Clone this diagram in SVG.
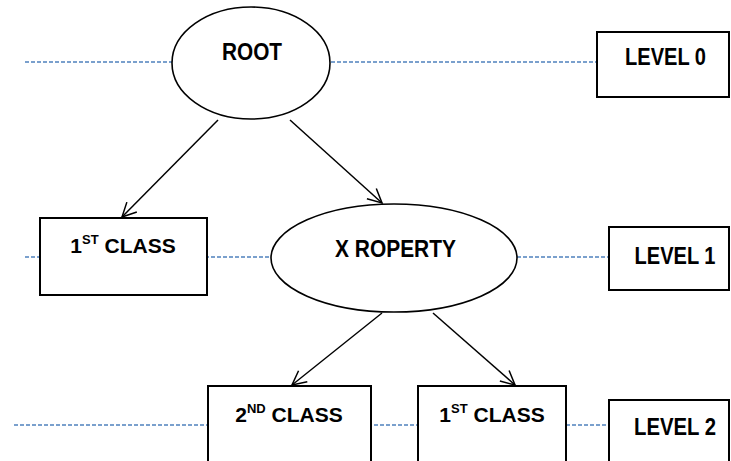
<svg xmlns="http://www.w3.org/2000/svg" width="731" height="461" viewBox="0 0 731 461">
<style>
.node{fill:#fff;stroke:#000;stroke-width:2}
.ell{fill:#fff;stroke:#000;stroke-width:1.6}
.lbl{font-family:"Liberation Sans",Arial,sans-serif;font-weight:bold;font-size:23px;fill:#000;text-anchor:middle}
.cls{font-size:21px}
.sup{font-size:13px}
.dash{stroke:#4f81bd;stroke-width:1.6;stroke-dasharray:4 2;fill:none}
.arr{stroke:#000;stroke-width:1.5;fill:none;marker-end:url(#ah)}
</style>
<defs>
<marker id="ah" markerWidth="20" markerHeight="20" refX="15" refY="8" orient="auto" markerUnits="userSpaceOnUse" viewBox="0 0 20 16">
<path d="M1,1 L15,8 L1,15" fill="none" stroke="#000" stroke-width="1.5"/>
</marker>
</defs>
<g id="levels">
<line class="dash" x1="25" y1="62" x2="597" y2="62"/>
<line class="dash" x1="25" y1="257" x2="609" y2="257"/>
<line class="dash" x1="14" y1="425" x2="609" y2="425"/>
</g>
<g id="connectors">
<line class="arr" x1="218" y1="120" x2="122" y2="217"/>
<line class="arr" x1="290" y1="120" x2="382" y2="203"/>
<line class="arr" x1="382" y1="313" x2="292" y2="385"/>
<line class="arr" x1="433" y1="313" x2="515" y2="385"/>
</g>
<g id="root">
<ellipse class="ell" cx="251" cy="63" rx="79" ry="56"/>
<text class="lbl" x="252" y="60" textLength="60" lengthAdjust="spacingAndGlyphs">ROOT</text>
</g>
<g id="level0">
<rect class="node" x="597" y="32" width="132" height="65"/>
<text class="lbl" x="665.5" y="65" textLength="81" lengthAdjust="spacingAndGlyphs">LEVEL 0</text>
</g>
<g id="class1a">
<rect class="node" x="40" y="218" width="167" height="77"/>
<text class="lbl cls" x="123" y="253">1<tspan class="sup" dy="-9">ST</tspan><tspan dy="9"> CLASS</tspan></text>
</g>
<g id="xproperty">
<ellipse class="ell" cx="394" cy="258" rx="123" ry="54"/>
<text class="lbl" x="395.5" y="257" textLength="121" lengthAdjust="spacingAndGlyphs">X ROPERTY</text>
</g>
<g id="level1">
<rect class="node" x="609" y="227" width="120" height="63"/>
<text class="lbl" x="675" y="264" textLength="81" lengthAdjust="spacingAndGlyphs">LEVEL 1</text>
</g>
<g id="class2">
<rect class="node" x="208" y="386" width="163" height="90"/>
<text class="lbl cls" x="289" y="422">2<tspan class="sup" dy="-9">ND</tspan><tspan dy="9"> CLASS</tspan></text>
</g>
<g id="class1b">
<rect class="node" x="418" y="386" width="148" height="90"/>
<text class="lbl cls" x="492" y="422">1<tspan class="sup" dy="-9">ST</tspan><tspan dy="9"> CLASS</tspan></text>
</g>
<g id="level2">
<rect class="node" x="609" y="400" width="120" height="80"/>
<text class="lbl" x="675" y="435" textLength="82" lengthAdjust="spacingAndGlyphs">LEVEL 2</text>
</g>
</svg>
